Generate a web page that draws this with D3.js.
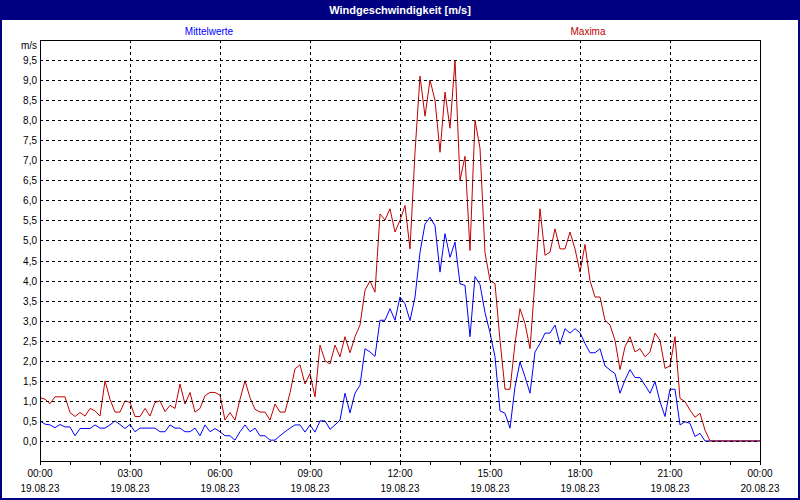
<!DOCTYPE html>
<html>
<head>
<meta charset="utf-8">
<script src="https://cdn.jsdelivr.net/npm/d3@7"></script>
<style>
  html, body { margin: 0; padding: 0; background: #fff; }
  svg { display: block; font-family: "Liberation Sans", Arial, sans-serif; }
</style>
</head>
<body>
<div id="chart"></div>
<script>
// ============================================================================
// data (10-minute values, 19.08.23 00:00 .. 20.08.23 00:00)
// ============================================================================

const title = "Windgeschwindigkeit [m/s]";
const seriesNames = ["Mittelwerte", "Maxima"];
const unitLabel = "m/s";
const startTime = new Date(2023, 7, 19, 0, 0);
const stepMinutes = 10;

const mittelwerte = [
  0.5, 0.42, 0.4, 0.33, 0.41, 0.35, 0.35, 0.13, 0.31, 0.31,
  0.31, 0.4, 0.32, 0.32, 0.4, 0.5, 0.41, 0.31, 0.41, 0.23,
  0.32, 0.32, 0.32, 0.32, 0.23, 0.23, 0.4, 0.32, 0.32, 0.23,
  0.23, 0.32, 0.13, 0.4, 0.23, 0.31, 0.23, 0.13, 0.13, 0.02,
  0.23, 0.4, 0.23, 0.32, 0.13, 0.13, 0.02, 0.02, 0.13, 0.23,
  0.32, 0.4, 0.4, 0.22, 0.4, 0.22, 0.5, 0.5, 0.29, 0.4,
  0.52, 1.19, 0.7, 1.19, 1.39, 2.3, 2.22, 2.11, 3.01, 3.01,
  3.3, 3.01, 3.59, 3.42, 3.0, 3.59, 4.7, 5.41, 5.58, 5.37,
  4.21, 5.17, 4.58, 4.96, 3.92, 3.88, 2.6, 4.1, 3.9, 3.2,
  2.7, 2.1, 0.75, 0.69, 0.32, 1.35, 1.97, 1.6, 1.19, 2.22,
  2.43, 2.69, 2.69, 2.89, 2.41, 2.8, 2.69, 2.8, 2.7, 2.43,
  2.2, 2.2, 2.3, 1.87, 1.77, 1.68, 1.19, 1.52, 1.78, 1.58,
  1.58, 1.39, 1.19, 1.48, 0.98, 0.61, 1.29, 1.29, 0.4, 0.48,
  0.44, 0.11, 0.19, 0, 0, 0, 0, 0, 0, 0,
  0, 0, 0, 0, 0
];

const maxima = [
  1.08, 1.04, 0.93, 1.1, 1.1, 1.1, 0.71, 0.61, 0.71, 0.62,
  0.81, 0.75, 0.62, 1.5, 1.04, 0.72, 0.72, 1.0, 0.96, 0.61,
  0.61, 0.81, 0.62, 0.96, 1.0, 0.73, 0.89, 0.81, 1.42, 0.92,
  1.21, 0.72, 0.81, 1.13, 1.21, 1.21, 1.14, 0.52, 0.71, 0.52,
  1.04, 1.5, 1.08, 0.79, 0.72, 0.72, 0.52, 0.92, 0.72, 0.72,
  1.2, 1.8, 1.9, 1.42, 1.68, 1.1, 2.39, 2.0, 1.92, 2.39,
  2.1, 2.6, 2.2, 2.6, 2.89, 3.76, 3.99, 3.71, 5.66, 5.51,
  5.79, 5.21, 5.5, 5.87, 4.79, 7.2, 9.1, 8.1, 9.0, 8.5,
  7.2, 8.7, 7.8, 9.5, 6.5, 7.1, 4.75, 8.0, 7.3, 4.7,
  4.0, 3.92, 2.51, 1.29, 1.29, 2.43, 3.3, 2.93, 2.3, 4.0,
  5.79, 4.63, 4.71, 5.29, 4.79, 4.79, 5.21, 4.79, 4.21, 4.9,
  4.0, 3.59, 3.59, 3.01, 2.89, 2.51, 1.78, 2.35, 2.6, 2.22,
  2.3, 2.1, 2.22, 2.69, 2.51, 1.81, 1.87, 2.6, 1.06, 0.98,
  0.77, 0.59, 0.69, 0.27, 0, 0, 0, 0, 0, 0,
  0, 0, 0, 0, 0
];

const yTicks = [0, 0.5, 1, 1.5, 2, 2.5, 3, 3.5, 4, 4.5, 5, 5.5, 6, 6.5, 7, 7.5, 8, 8.5, 9, 9.5];

// ============================================================================
// drawing
// ============================================================================

const width = 800;
const height = 500;
const plot = { left: 40, top: 40, right: 760, bottom: 461 };
const navy = "#000080";
const blue = "#0000ff";
const red = "#c00000";

const timeAt = i => new Date(startTime.getTime() + i * stepMinutes * 60000);
const endTime = timeAt(144);

const x = d3.scaleTime()
    .domain([startTime, endTime])
    .range([plot.left, plot.right]);

const y = d3.scaleLinear()
    .domain([-0.5, 10])
    .range([plot.bottom, plot.top]);

const svg = d3.select("#chart")
  .append("svg")
    .attr("width", width)
    .attr("height", height);

// window frame + title bar
svg.append("rect")
    .attr("x", 0).attr("y", 0)
    .attr("width", width).attr("height", height)
    .attr("fill", "#fff");

svg.append("rect")
    .attr("x", 0).attr("y", 0)
    .attr("width", width).attr("height", 20)
    .attr("fill", navy);

svg.append("rect")
    .attr("x", 1).attr("y", 1)
    .attr("width", width - 2).attr("height", height - 2)
    .attr("fill", "none")
    .attr("stroke", navy)
    .attr("stroke-width", 2);

svg.append("text")
    .attr("x", width / 2)
    .attr("y", 14)
    .attr("text-anchor", "middle")
    .attr("fill", "#fff")
    .attr("font-size", 11)
    .attr("font-weight", "bold")
    .text(title);

// legend labels
svg.append("text")
    .attr("x", 209).attr("y", 35)
    .attr("text-anchor", "middle")
    .attr("font-size", 10)
    .attr("fill", blue)
    .text(seriesNames[0]);

svg.append("text")
    .attr("x", 588).attr("y", 35)
    .attr("text-anchor", "middle")
    .attr("font-size", 10)
    .attr("fill", red)
    .text(seriesNames[1]);

svg.append("text")
    .attr("x", 37).attr("y", 49)
    .attr("text-anchor", "end")
    .attr("font-size", 10)
    .attr("fill", "#000")
    .text(unitLabel);

// data lines
const line = d3.line()
    .x((d, i) => x(timeAt(i)))
    .y(d => y(d));

svg.append("path")
    .datum(mittelwerte)
    .attr("fill", "none")
    .attr("stroke", blue)
    .attr("stroke-width", 1)
    .attr("d", line);

svg.append("path")
    .datum(maxima)
    .attr("fill", "none")
    .attr("stroke", red)
    .attr("stroke-width", 1)
    .attr("d", line);

// grid (drawn on top like the original)
const hourTicks = d3.timeHour.every(1).range(startTime, new Date(endTime.getTime() + 1));
const majorTicks = hourTicks.filter(t => t.getHours() % 3 === 0);

svg.append("g")
    .attr("stroke", "#000")
    .attr("stroke-dasharray", "3,3")
    .attr("shape-rendering", "crispEdges")
  .selectAll("line")
  .data(yTicks)
  .join("line")
    .attr("x1", plot.left)
    .attr("x2", plot.right)
    .attr("y1", d => Math.round(y(d)) + 0.5)
    .attr("y2", d => Math.round(y(d)) + 0.5);

svg.append("g")
    .attr("stroke", "#000")
    .attr("stroke-dasharray", "3,3")
    .attr("shape-rendering", "crispEdges")
  .selectAll("line")
  .data(majorTicks.slice(1, -1))
  .join("line")
    .attr("x1", d => Math.round(x(d)) + 0.5)
    .attr("x2", d => Math.round(x(d)) + 0.5)
    .attr("y1", plot.top)
    .attr("y2", plot.bottom);

// plot box
svg.append("rect")
    .attr("x", plot.left + 0.5)
    .attr("y", plot.top + 0.5)
    .attr("width", plot.right - plot.left)
    .attr("height", plot.bottom - plot.top)
    .attr("fill", "none")
    .attr("stroke", "#000")
    .attr("shape-rendering", "crispEdges");

// y labels
svg.append("g")
    .attr("font-size", 10)
    .attr("text-anchor", "end")
  .selectAll("text")
  .data(yTicks)
  .join("text")
    .attr("x", 37)
    .attr("y", d => y(d) + 4)
    .text(d => d3.format(".1f")(d).replace(".", ","));

// x ticks + labels
svg.append("g")
    .attr("stroke", "#000")
    .attr("shape-rendering", "crispEdges")
  .selectAll("line")
  .data(hourTicks)
  .join("line")
    .attr("x1", d => Math.round(x(d)) + 0.5)
    .attr("x2", d => Math.round(x(d)) + 0.5)
    .attr("y1", plot.bottom)
    .attr("y2", plot.bottom + 4);

const fmtTime = d3.timeFormat("%H:%M");
const fmtDate = d3.timeFormat("%d.%m.%y");

const xl = svg.append("g")
    .attr("font-size", 10)
    .attr("text-anchor", "middle")
  .selectAll("g")
  .data(majorTicks)
  .join("g")
    .attr("transform", d => `translate(${x(d)},0)`);

xl.append("text").attr("y", 477).text(fmtTime);
xl.append("text").attr("y", 492).text(fmtDate);
</script>
</body>
</html>
